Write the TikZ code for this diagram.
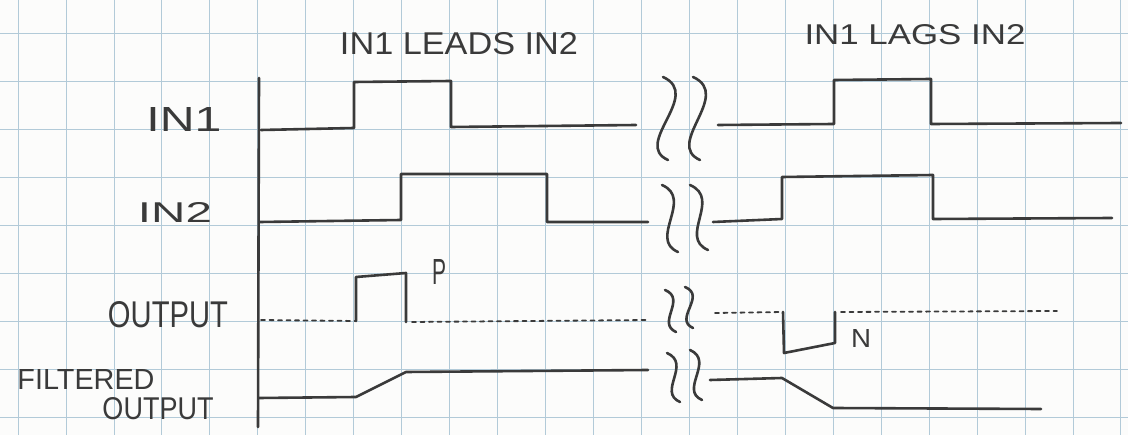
\documentclass[tikz,border=0pt]{standalone}
\usepackage{fontspec}
\setmainfont{Liberation Sans}
\usepackage{graphicx}
\definecolor{ink}{RGB}{58,58,58}
\definecolor{gridc}{RGB}{178,202,216}
\definecolor{paper}{RGB}{252,252,251}
\newcommand\hw[3]{\resizebox{#1pt}{#2pt}{#3}}
\tikzset{
  pen/.style={draw=ink, line width=2.6pt, line cap=round, line join=round},
  dots/.style={draw=ink, line width=1.8pt, line cap=round, dash pattern=on 4pt off 4.5pt},
  gridline/.style={draw=gridc, line width=0.8pt},
  lbl/.style={text=ink, inner sep=0pt, anchor=center}
}
\begin{document}
\begin{tikzpicture}[x=1pt,y=-1pt]
\useasboundingbox[fill=paper] (0,0) rectangle (1128,435);
% graph paper
\foreach \k in {0,...,23} \draw[gridline] ({18+47.95*\k},0) -- ({18+47.95*\k},435);
\foreach \k in {0,...,8} \draw[gridline] (0,{33+48.1*\k}) -- (1128,{33+48.1*\k});

% titles
\node[lbl] (t1) at (459,44) {\hw{238}{22}{IN1 LEADS IN2}};
\node[lbl] (t2) at (915,35) {\hw{221}{20}{IN1 LAGS IN2}};
% row labels
\node[lbl] (l1) at (184,120) {\hw{75}{24}{IN1}};
\node[lbl] (l2) at (175,213) {\hw{74}{20}{IN2}};
\node[lbl] (l3) at (168,315) {\hw{120}{26}{OUTPUT}};
\node[lbl] (l4) at (86,380) {\hw{137}{20}{FILTERED}};
\node[lbl] (l5) at (158,409) {\hw{111}{22}{OUTPUT}};
\node[lbl] (lp) at (439,272) {\hw{14}{25}{P}};
\node[lbl] (ln) at (861,339) {\hw{20}{18}{N}};

% axis
\draw[pen] (259,78) -- (258,427);

% IN1
\draw[pen] (261,130) -- (354,128) -- (354,82) -- (451,81) -- (451,127) -- (636,125);
\draw[pen] (718,125) -- (834,124) -- (834,80) -- (931,79) -- (931,124) -- (1121,123);
% IN2
\draw[pen] (260,222) -- (401,220) -- (401,174) -- (547,174) -- (547,222) -- (648,222);
\draw[pen] (713,222) -- (782,219) -- (782,177) -- (933,175) -- (933,219) -- (1112,218);
% OUTPUT
\draw[dots] (261,320) -- (356,321);
\draw[pen] (356,321) -- (356,277) -- (406,273) -- (406,322);
\draw[dots] (412,322) -- (648,320);
\draw[dots] (715,313) -- (783,312);
\draw[pen] (783,312) -- (784,353) -- (835,343) -- (835,312);
\draw[dots] (841,312) -- (1057,311);
% FILTERED OUTPUT
\draw[pen] (259,398) -- (356,397) -- (406,372) -- (648,370);
\draw[pen] (710,380) -- (782,378) -- (833,408) -- (1041,409);

% break marks
\draw[pen] (663,77) .. controls +(40,18) and +(-36,-16) .. (668,160);
\draw[pen] (693,77) .. controls +(40,18) and +(-36,-16) .. (700,160);
\draw[pen] (662,185) .. controls +(32,14) and +(-30,-13) .. (678,252);
\draw[pen] (690,185) .. controls +(32,14) and +(-30,-13) .. (708,250);
\draw[pen] (665,290) .. controls +(22,9) and +(-20,-9) .. (676,332);
\draw[pen] (685,287) .. controls +(22,9) and +(-20,-9) .. (693,328);
\draw[pen] (667,353) .. controls +(25,11) and +(-23,-10) .. (680,402);
\draw[pen] (690,350) .. controls +(25,11) and +(-23,-10) .. (702,400);
\end{tikzpicture}
\end{document}
